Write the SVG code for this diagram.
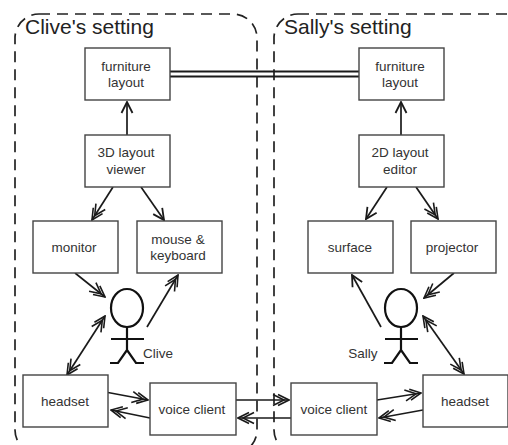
<svg xmlns="http://www.w3.org/2000/svg" width="508" height="445" viewBox="0 0 508 445">
<style>
text{font-family:"Liberation Sans",Arial,sans-serif;fill:#333;text-anchor:middle}
.n{font-size:13.500px}
.t{font-size:21px;text-anchor:start;fill:#222}
.b{fill:#fff;stroke:#444;stroke-width:1.4}
.a{fill:none;stroke:#1a1a1a;stroke-width:1.7}
.s{marker-end:url(#h1)}
.d{marker-end:url(#h2)}
.dd{marker-end:url(#h2);marker-start:url(#h2)}
.r{fill:none;stroke:#222;stroke-width:1.7;stroke-dasharray:11 7}
.p{fill:none;stroke:#111;stroke-width:2.200}
</style>
<defs>
<marker id="h1" viewBox="-13 -7 14 14" refX="0" refY="0" markerWidth="14" markerHeight="14" markerUnits="userSpaceOnUse" orient="auto-start-reverse"><path d="M-11,-5.500L0,0L-11,5.500" fill="none" stroke="#1a1a1a" stroke-width="1.8"/></marker>
<marker id="h2" viewBox="-19 -7 20 14" refX="0" refY="0" markerWidth="20" markerHeight="14" markerUnits="userSpaceOnUse" orient="auto-start-reverse"><path d="M-11,-5.500L0,0L-11,5.500M-16,-5.500L-5,0L-16,5.500" fill="none" stroke="#1a1a1a" stroke-width="1.6"/></marker>
</defs>
<g id="regions">
<rect class="r" x="15" y="14" width="242" height="440" rx="24"/>
<rect class="r" x="274" y="14" width="260" height="440" rx="24"/>
<text class="t" x="25" y="34">Clive's setting</text>
<text class="t" x="284" y="34">Sally's setting</text>
</g>
<g id="connectors">
<path d="M170,71.500H359M170,76.500H359" fill="none" stroke="#1a1a1a" stroke-width="1.8"/>
<path class="a s" d="M127,135V102"/>
<path class="a s" d="M401,135V102"/>
<path class="a d" d="M113,187L92,220"/>
<path class="a s" d="M141,187L164,220"/>
<path class="a s" d="M387,187L366,219"/>
<path class="a d" d="M416,187L438,219"/>
<path class="a d" d="M75,273L105,297"/>
<path class="a d" d="M147,327L178,275"/>
<path class="a dd" d="M105,316L67,375"/>
<path class="a d" d="M108,392.500L148,400"/>
<path class="a d" d="M150,418L111,410"/>
<path class="a d" d="M236,400H289"/>
<path class="a d" d="M291,418H238"/>
<path class="a d" d="M377,400L421,393"/>
<path class="a d" d="M423,410L379,418"/>
<path class="a d" d="M454,273L424,298"/>
<path class="a s" d="M381,327L352,275"/>
<path class="a dd" d="M423,316L464,374"/>
</g>
<g id="furniture-clive"><rect class="b" x="85" y="48" width="85" height="52"/><text class="n" x="126" y="71">furniture</text><text class="n" x="126" y="87">layout</text></g>
<g id="viewer"><rect class="b" x="85" y="135" width="85" height="52"/><text class="n" x="126" y="157">3D layout</text><text class="n" x="126" y="174">viewer</text></g>
<g id="monitor"><rect class="b" x="33" y="221" width="85" height="52"/><text class="n" x="74" y="252">monitor</text></g>
<g id="mouse"><rect class="b" x="137" y="221" width="85" height="52"/><text class="n" x="178" y="244">mouse &amp;</text><text class="n" x="178" y="260">keyboard</text></g>
<g id="clive"><ellipse class="p" cx="127" cy="308" rx="16" ry="19"/><path class="p" d="M127,327V350M111,339H144M110,363H118L127,350L136,363H144"/><text class="n" x="158" y="358">Clive</text></g>
<g id="headset-clive"><rect class="b" x="23" y="375" width="85" height="52"/><text class="n" x="65" y="406">headset</text></g>
<g id="voice-clive"><rect class="b" x="150" y="383" width="86" height="52"/><text class="n" x="192" y="414">voice client</text></g>
<g id="furniture-sally"><rect class="b" x="359" y="48" width="85" height="52"/><text class="n" x="400" y="71">furniture</text><text class="n" x="400" y="87">layout</text></g>
<g id="editor"><rect class="b" x="359" y="135" width="85" height="52"/><text class="n" x="400" y="157">2D layout</text><text class="n" x="400" y="174">editor</text></g>
<g id="surface"><rect class="b" x="308" y="221" width="85" height="52"/><text class="n" x="350" y="252">surface</text></g>
<g id="projector"><rect class="b" x="411" y="221" width="85" height="52"/><text class="n" x="452" y="252">projector</text></g>
<g id="sally"><ellipse class="p" cx="401" cy="308" rx="16" ry="19"/><path class="p" d="M401,327V350M385,339H418M384,363H392L401,350L410,363H418"/><text class="n" x="363" y="358">Sally</text></g>
<g id="headset-sally"><rect class="b" x="423" y="375" width="85" height="52"/><text class="n" x="465" y="406">headset</text></g>
<g id="voice-sally"><rect class="b" x="291" y="383" width="86" height="52"/><text class="n" x="334" y="414">voice client</text></g>
</svg>
